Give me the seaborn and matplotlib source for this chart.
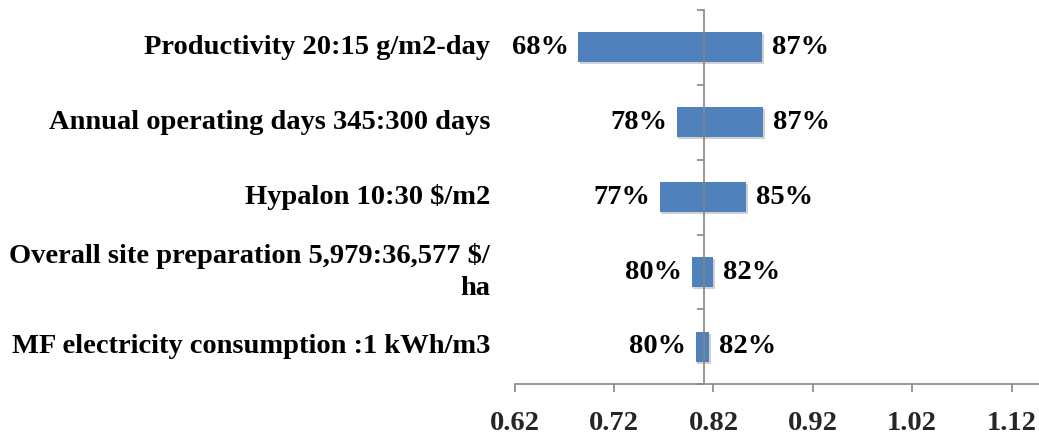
import matplotlib
matplotlib.use("Agg")
import matplotlib.pyplot as plt
import matplotlib.ticker as mticker
import matplotlib.patheffects as pe
import seaborn as sns
import pandas as pd

# ---- data ----
categories = [
    "Productivity 20:15 g/m2-day",
    "Annual operating days 345:300 days",
    "Hypalon 10:30 $/m2",
    "Overall site preparation 5,979:36,577 $/\nha",
    "MF electricity consumption :1 kWh/m3",
]
low_values = [0.684, 0.783, 0.766, 0.798, 0.802]
high_values = [0.869, 0.870, 0.853, 0.820, 0.816]
low_labels = ["68%", "78%", "77%", "80%", "80%"]
high_labels = ["87%", "87%", "85%", "82%", "82%"]
base_value = 0.81
tick_values = [0.62, 0.72, 0.82, 0.92, 1.02, 1.12]

sns.set_theme(style="white")
plt.rcParams["font.family"] = ["Liberation Serif", "DejaVu Serif"]
plt.rcParams["font.weight"] = "bold"

BAR = "#4F81BD"
AX = "#868686"
FS = 20.5

df = pd.DataFrame({
    "category": categories * 2,
    "delta": [v - base_value for v in low_values] + [v - base_value for v in high_values],
    "side": ["low"] * len(categories) + ["high"] * len(categories),
})

fig = plt.figure(figsize=(10.39, 4.36), dpi=100)
ax = fig.add_axes([514.7 / 1039, (436 - 384.3) / 436, (1039 - 514.7) / 1039, 374.3 / 436])

sns.barplot(data=df, y="category", x="delta", hue="side", orient="h",
            dodge=False, palette={"low": BAR, "high": BAR}, width=0.4,
            saturation=1, legend=False, ax=ax, order=categories)

shadow = [pe.SimplePatchShadow(offset=(1.2, -1.2), shadow_rgbFace="#9a9a9a", alpha=0.45), pe.Normal()]
for p in ax.patches:
    p.set_path_effects(shadow)
    p.set_linewidth(0)

for cont, labs in zip(ax.containers, [low_labels, high_labels]):
    ax.bar_label(cont, labels=labs, padding=7, fontsize=FS, fontweight="bold", color="black")

# axis in shifted space
ax.set_xlim(0.62 - base_value, 0.62 - base_value + (1039 - 514.7) / 993.8)
ax.set_xticks([t - base_value for t in tick_values])
ax.xaxis.set_major_formatter(mticker.FuncFormatter(lambda x, p: f"{x + base_value:.2f}"))
ax.set_ylim(len(categories) - 0.5, -0.5)
ax.set_yticks([i - 0.5 for i in range(len(categories) + 1)])
ax.set_yticklabels([])
ax.set_xlabel("")
ax.set_ylabel("")

for s in ["top", "right"]:
    ax.spines[s].set_visible(False)
ax.spines["left"].set_position(("data", 0))
ax.spines["left"].set_color(AX)
ax.spines["bottom"].set_color(AX)
ax.spines["left"].set_linewidth(1.2)
ax.spines["bottom"].set_linewidth(1.2)
ax.spines["left"].set_zorder(5)
ax.tick_params(axis="x", direction="out", length=6, width=1.2, color=AX,
               labelsize=FS, pad=13.5, bottom=True)
ax.tick_params(axis="y", direction="out", length=5, width=1.2, color=AX, left=True)
for lab in ax.get_xticklabels():
    lab.set_fontweight("bold")

trans = ax.get_yaxis_transform()
for i, c in enumerate(categories):
    ax.text(-24.7 / 524.3, i, c, transform=trans, ha="right", va="center",
            multialignment="right", fontsize=FS, fontweight="bold", color="black",
            linespacing=1.35)

fig.savefig("out.png", dpi=100)
